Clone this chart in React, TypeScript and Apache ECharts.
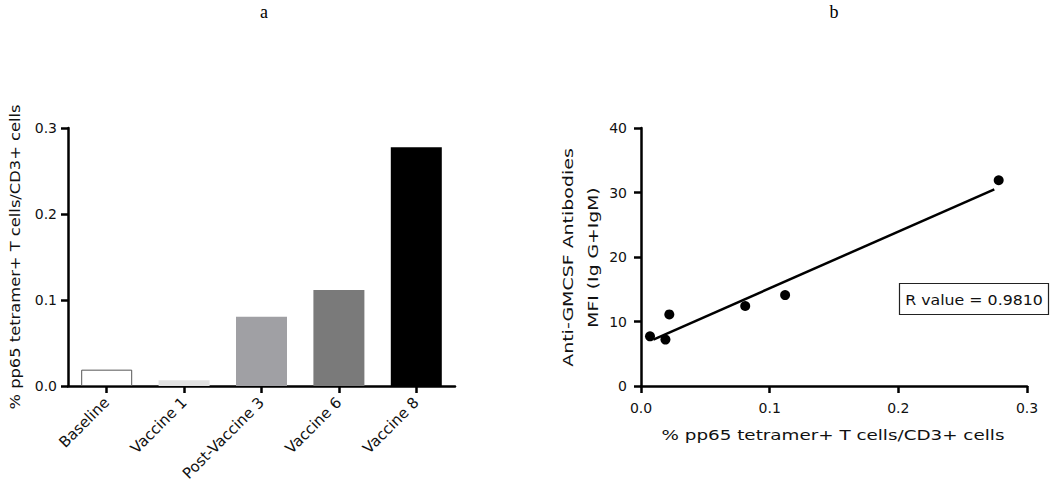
import React, { useEffect, useRef } from "react";
import * as echarts from "echarts";

const categories = ["Baseline", "Vaccine 1", "Post-Vaccine 3", "Vaccine 6", "Vaccine 8"];
const barValues = [0.019, 0.0066, 0.0805, 0.1115, 0.2775];
const barColors = ["#ffffff", "#e2e2e2", "#a0a0a4", "#7a7a7a", "#000000"];

const scatterX = [0.007, 0.019, 0.022, 0.081, 0.112, 0.278];
const scatterY = [7.7, 7.2, 11.1, 12.4, 14.1, 31.9];
const fitX = [0.0096, 0.2746];
const fitY = [7.2, 30.5];

const barTicks = [0, 0.1, 0.2, 0.3];
const scatterYTicks = [0, 10, 20, 30, 40];

const FONT = "'DejaVu Sans', 'Liberation Sans', Arial, sans-serif";

export default function App() {
  const ref = useRef<HTMLDivElement>(null);
  useEffect(() => {
    const chart = echarts.init(ref.current!, null, { renderer: "svg" });
    const axisLine = { lineStyle: { color: "#000", width: 2.5 } };
    const axisTick = { show: true, length: 7, lineStyle: { color: "#000", width: 2.5 } };
    const label = { color: "#111", fontFamily: FONT, fontSize: 14 };
    const title = (text: string, x: number, y: number, scaleX: number, rotated: boolean) => ({
      type: "text",
      x,
      y,
      scaleX,
      rotation: rotated ? Math.PI / 2 : 0,
      style: { text, font: `14px ${FONT}`, fill: "#111", align: "center", verticalAlign: "middle" },
    });
    chart.setOption({
      animation: false,
      backgroundColor: "#fff",
      grid: [
        { left: 68, right: 595, top: 128, bottom: 115 },
        { left: 641, right: 23, top: 128, bottom: 115 },
      ],
      xAxis: [
        {
          type: "category",
          gridIndex: 0,
          data: categories,
          axisLine,
          axisTick: { ...axisTick, alignWithLabel: true },
          axisLabel: { ...label, fontSize: 15, rotate: 45, margin: 14, interval: 0 },
          splitLine: { show: false },
        },
        {
          type: "value",
          gridIndex: 1,
          min: 0,
          max: barTicks[barTicks.length - 1],
          interval: 0.1,
          axisLine,
          axisTick,
          axisLabel: { ...label, margin: 15, formatter: (v: number) => v.toFixed(1) },
          splitLine: { show: false },
        },
      ],
      yAxis: [
        {
          type: "value",
          gridIndex: 0,
          min: barTicks[0],
          max: barTicks[barTicks.length - 1],
          interval: 0.1,
          axisLine: { show: true, ...axisLine },
          axisTick,
          axisLabel: { ...label, margin: 11, formatter: (v: number) => v.toFixed(1) },
          splitLine: { show: false },
        },
        {
          type: "value",
          gridIndex: 1,
          min: scatterYTicks[0],
          max: scatterYTicks[scatterYTicks.length - 1],
          interval: 10,
          axisLine: { show: true, ...axisLine },
          axisTick,
          axisLabel: { ...label, margin: 14 },
          splitLine: { show: false },
        },
      ],
      series: [
        {
          type: "bar",
          xAxisIndex: 0,
          yAxisIndex: 0,
          barWidth: 51,
          data: barValues.map((v, i) => ({
            value: v,
            itemStyle: {
              color: barColors[i],
              borderColor: i === 0 ? "#555" : barColors[i],
              borderWidth: i === 0 ? 1 : 0,
            },
          })),
        },
        {
          type: "line",
          xAxisIndex: 1,
          yAxisIndex: 1,
          data: fitX.map((x, i) => [x, fitY[i]]),
          showSymbol: false,
          symbol: "none",
          lineStyle: { color: "#000", width: 2.5 },
          z: 2,
        },
        {
          type: "scatter",
          xAxisIndex: 1,
          yAxisIndex: 1,
          symbolSize: 10,
          data: scatterX.map((x, i) => [x, scatterY[i]]),
          itemStyle: { color: "#000", opacity: 1 },
          z: 3,
        },
      ],
      graphic: [
        {
          type: "text",
          x: 264,
          y: 12,
          style: { text: "a", font: "18px 'Liberation Serif', 'DejaVu Serif', serif", fill: "#000", align: "center", verticalAlign: "middle" },
        },
        {
          type: "text",
          x: 834,
          y: 12,
          style: { text: "b", font: "18px 'Liberation Serif', 'DejaVu Serif', serif", fill: "#000", align: "center", verticalAlign: "middle" },
        },
        title("% pp65 tetramer+ T cells/CD3+ cells", 15, 257, 1.165, true),
        title("% pp65 tetramer+ T cells/CD3+ cells", 833, 435, 1.31, false),
        title("Anti-GMCSF Antibodies", 568, 257.5, 1.355, true),
        title("MFI (Ig G+IgM)", 593, 257.5, 1.34, true),
        {
          type: "rect",
          shape: { x: 899.5, y: 283.5, width: 149, height: 31 },
          style: { fill: "#fff", stroke: "#222", lineWidth: 1.2 },
        },
        title("R value = 0.9810", 974, 300, 1.13, false),
      ],
    });
    return () => chart.dispose();
  }, []);
  return (
    <div
      ref={ref}
      style={{ position: "fixed", left: 0, top: 0, width: 1050, height: 501, background: "#fff" }}
    />
  );
}
